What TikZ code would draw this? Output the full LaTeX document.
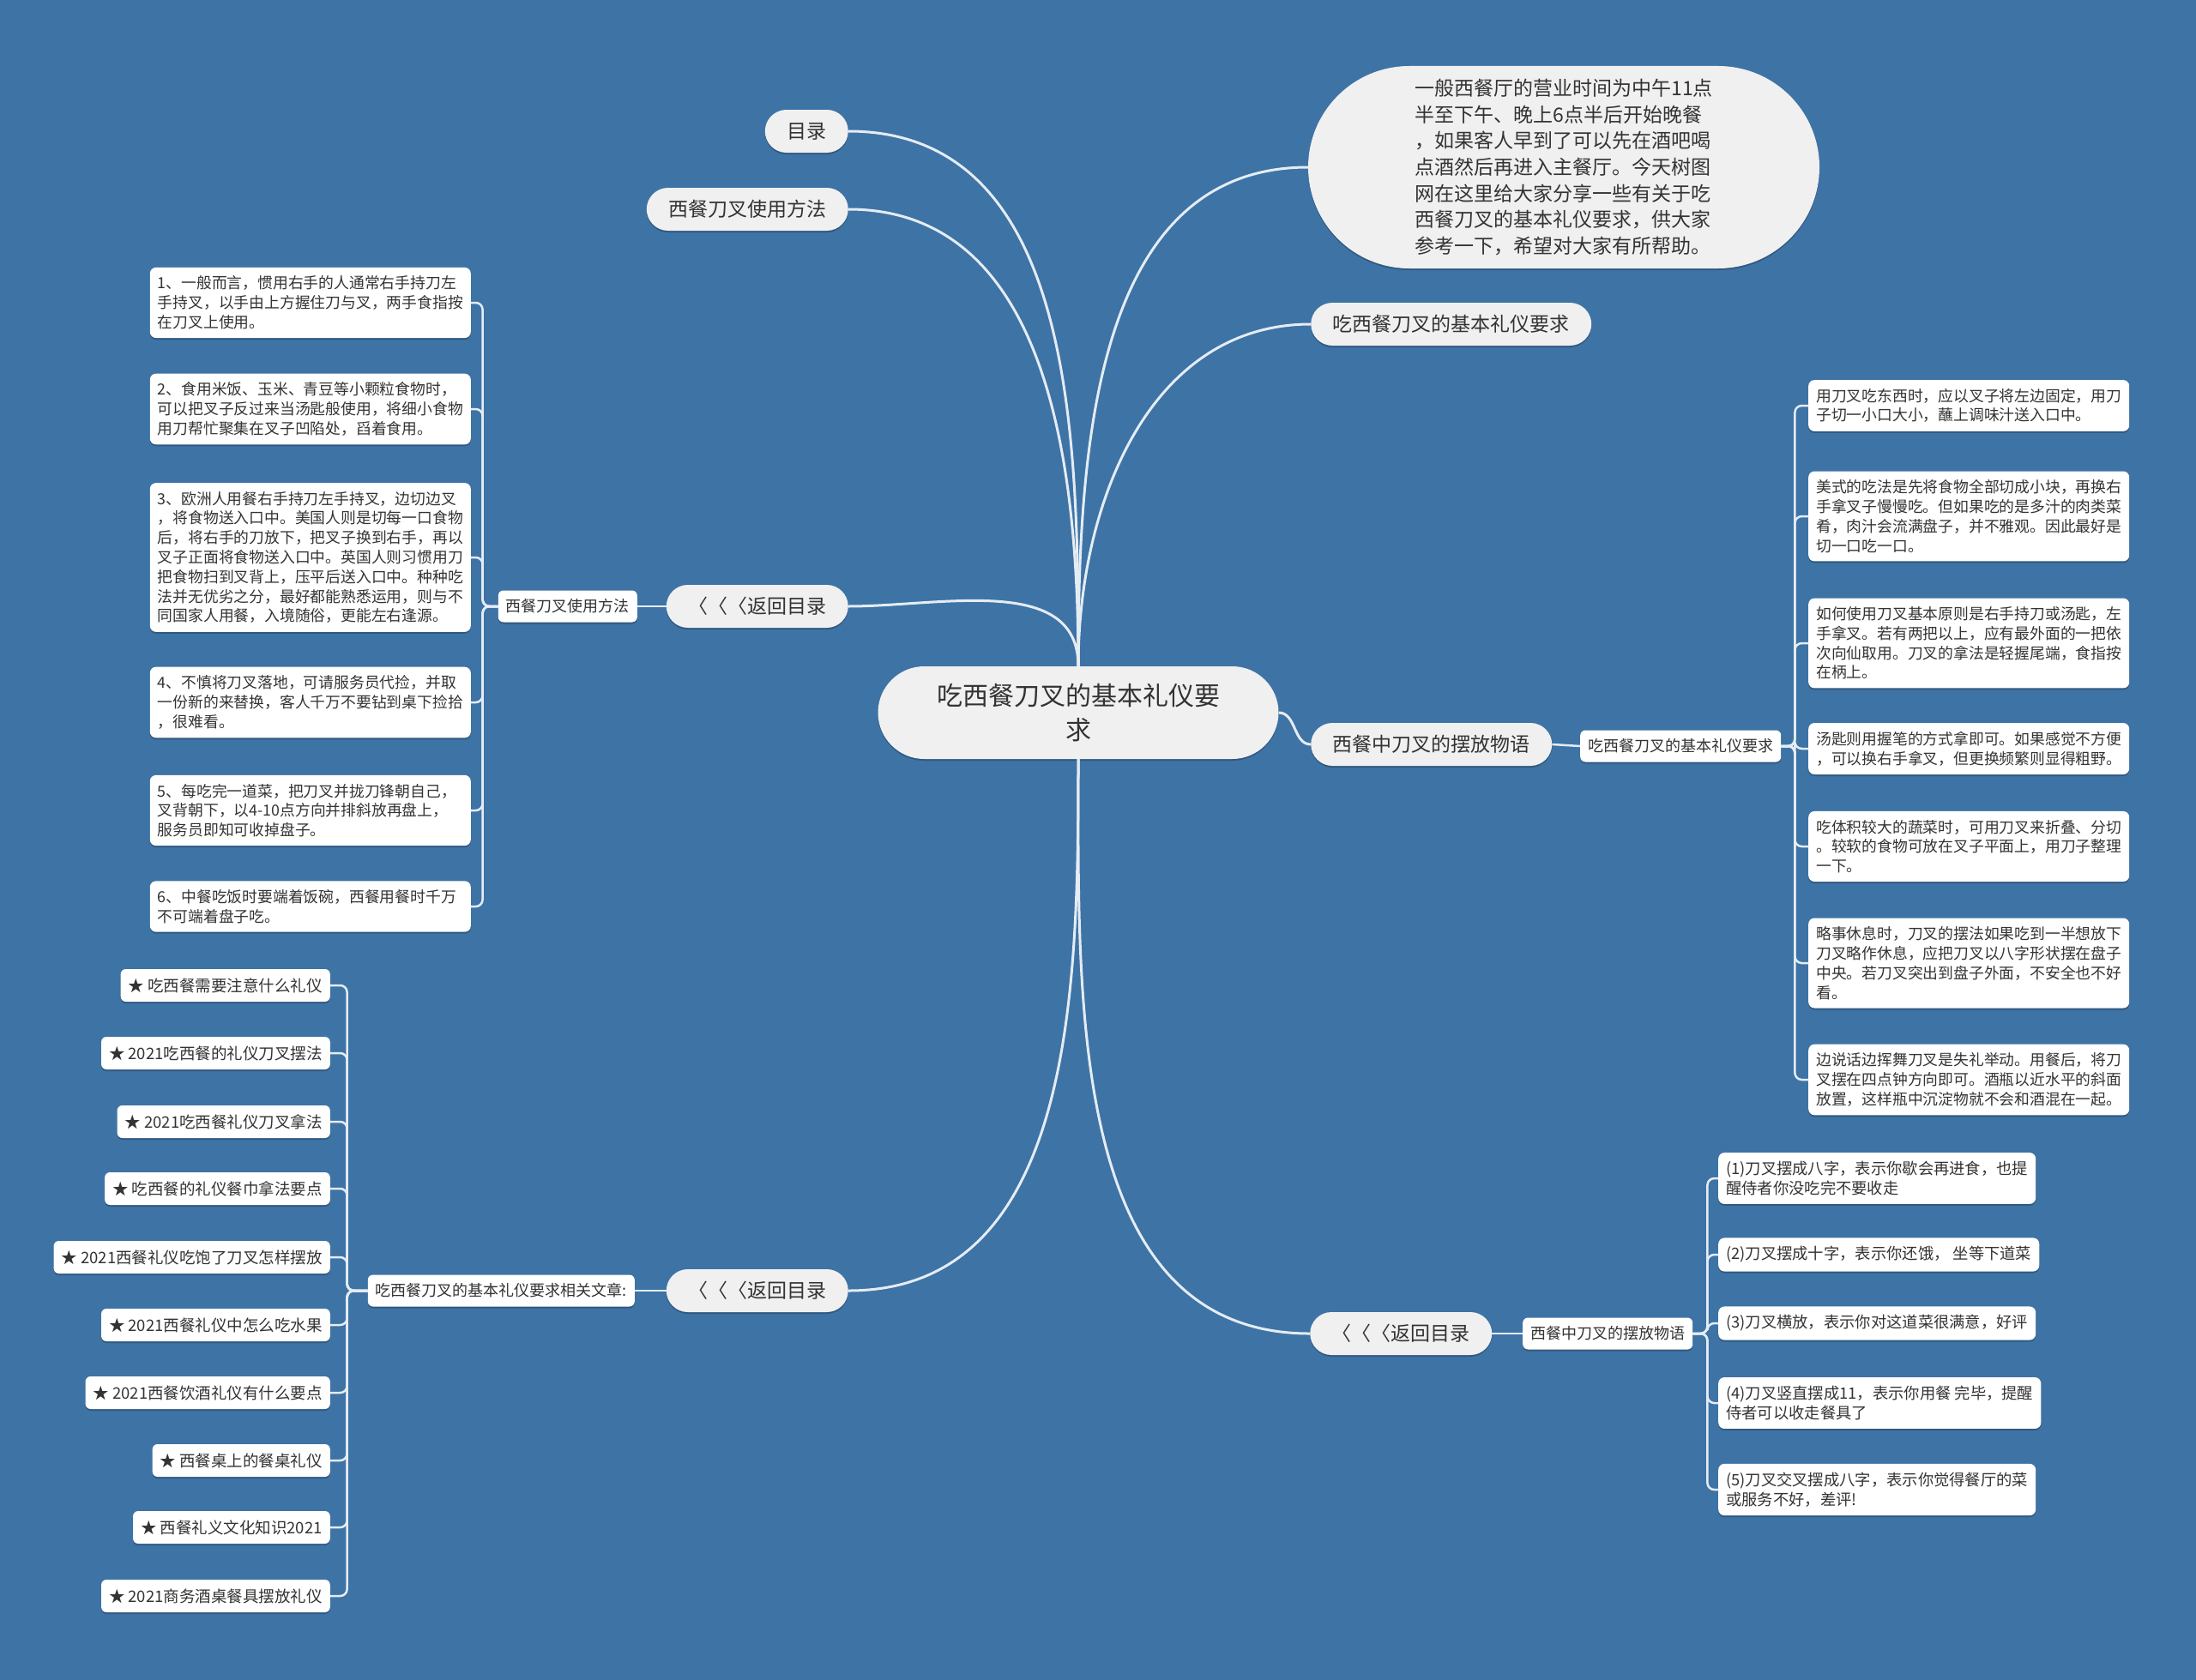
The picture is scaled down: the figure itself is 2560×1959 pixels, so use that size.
\documentclass[tikz,border=0pt]{standalone}
\usepackage{fontspec}
\newfontfamily\cjk{Noto Sans CJK SC}
\usetikzlibrary{shadows}

\definecolor{bgblue}{HTML}{3E73A5}
\definecolor{linecol}{HTML}{E4ECF4}
\definecolor{pillgray}{HTML}{F0F0F0}
\definecolor{txtgray}{HTML}{333333}

\begin{document}
\begin{tikzpicture}[x=1pt, y=-1pt,
    shady/.style={drop shadow={shadow xshift=0pt, shadow yshift=-2pt, fill=black, opacity=.22}},
    hub/.style={shady, fill=pillgray, text=txtgray, font=\cjk\fontsize{30}{40}\selectfont,
      rounded corners=54pt, minimum width=467pt, minimum height=108pt, align=center},
    intro/.style={shady, fill=pillgray, text=txtgray, font=\cjk\fontsize{23}{30.7}\selectfont,
      rounded corners=118pt, minimum width=596pt, minimum height=236pt, align=left},
    pill/.style={shady, fill=pillgray, text=txtgray, font=\cjk\fontsize{23}{28}\selectfont,
      rounded corners=25pt, minimum height=50pt, inner xsep=25.5pt},
    tag/.style={shady, fill=white, text=txtgray, font=\cjk\fontsize{18}{22}\selectfont,
      rounded corners=6pt, minimum height=37pt, inner xsep=9pt},
    leaf/.style={shady, fill=white, text=txtgray, font=\cjk\fontsize{17.8}{22.8}\selectfont,
      rounded corners=7pt, align=left, inner xsep=9pt, inner ysep=10pt},
    wide/.style={leaf, text width=356pt},
    pose/.style={leaf, font=\cjk\fontsize{18.3}{22.8}\selectfont},
    rel/.style={shady, fill=white, text=txtgray, font=\cjk\fontsize{18.5}{22}\selectfont,
      rounded corners=6pt, minimum height=38pt, inner xsep=9pt, anchor=east},
    link/.style={draw=linecol, line width=3pt},
    twig/.style={draw=linecol, line width=2.5pt, rounded corners=8pt}]

  % background
  \useasboundingbox (0,0) rectangle (2560,1959);
  \fill[bgblue] (0,0) rectangle (2560,1959);

  % center
  \node[hub] (ctr) at (1257,831) {吃西餐刀叉的基本礼仪要\\求};

  % left branches
  \node[pill, anchor=east] (mulu) at (989,153) {目录};
  \node[pill, anchor=east] (fangfa) at (989,244) {西餐刀叉使用方法};
  \node[pill, anchor=east] (back1) at (989,707) {〈〈〈返回目录};
  \node[pill, anchor=east] (back2) at (989,1505) {〈〈〈返回目录};

  % right branches
  \node[intro] (intro) at (1823,195) {一般西餐厅的营业时间为中午11点\\半至下午、晚上6点半后开始晚餐\\，如果客人早到了可以先在酒吧喝\\点酒然后再进入主餐厅。今天树图\\网在这里给大家分享一些有关于吃\\西餐刀叉的基本礼仪要求，供大家\\参考一下，希望对大家有所帮助。};
  \node[pill, anchor=west] (yaoqiu) at (1528,378) {吃西餐刀叉的基本礼仪要求};
  \node[pill, anchor=west] (baifang) at (1528,868) {西餐中刀叉的摆放物语};
  \node[pill, anchor=west] (back3) at (1527,1555) {〈〈〈返回目录};

  % tags
  \node[tag, anchor=east] (tag1) at (743,707) {西餐刀叉使用方法};
  \node[tag, anchor=east] (tag2) at (740,1505) {吃西餐刀叉的基本礼仪要求相关文章:};
  \node[tag, anchor=west] (tag3) at (1842,870) {吃西餐刀叉的基本礼仪要求};
  \node[tag, anchor=west] (tag4) at (1775,1555) {西餐中刀叉的摆放物语};

  % usage leaves
  \node[wide, anchor=east] (use1) at (549,353) {1、一般而言，惯用右手的人通常右手持刀左\\手持叉，以手由上方握住刀与叉，两手食指按\\在刀叉上使用。};
  \node[wide, anchor=east] (use2) at (549,477) {2、食用米饭、玉米、青豆等小颗粒食物时，\\可以把叉子反过来当汤匙般使用，将细小食物\\用刀帮忙聚集在叉子凹陷处，舀着食用。};
  \node[wide, anchor=east] (use3) at (549,650) {3、欧洲人用餐右手持刀左手持叉，边切边叉\\，将食物送入口中。美国人则是切每一口食物\\后，将右手的刀放下，把叉子换到右手，再以\\叉子正面将食物送入口中。英国人则习惯用刀\\把食物扫到叉背上，压平后送入口中。种种吃\\法并无优劣之分，最好都能熟悉运用，则与不\\同国家人用餐，入境随俗，更能左右逢源。};
  \node[wide, anchor=east] (use4) at (549,819) {4、不慎将刀叉落地，可请服务员代捡，并取\\一份新的来替换，客人千万不要钻到桌下捡拾\\，很难看。};
  \node[wide, anchor=east] (use5) at (549,945) {5、每吃完一道菜，把刀叉并拢刀锋朝自己，\\叉背朝下，以4-10点方向并排斜放再盘上，\\服务员即知可收掉盘子。};
  \node[wide, anchor=east] (use6) at (549,1057) {6、中餐吃饭时要端着饭碗，西餐用餐时千万\\不可端着盘子吃。};

  % rule leaves
  \node[wide, anchor=west] (rule1) at (2108,473) {用刀叉吃东西时，应以叉子将左边固定，用刀\\子切一小口大小，蘸上调味汁送入口中。};
  \node[wide, anchor=west] (rule2) at (2108,602) {美式的吃法是先将食物全部切成小块，再换右\\手拿叉子慢慢吃。但如果吃的是多汁的肉类菜\\肴，肉汁会流满盘子，并不雅观。因此最好是\\切一口吃一口。};
  \node[wide, anchor=west] (rule3) at (2108,750) {如何使用刀叉基本原则是右手持刀或汤匙，左\\手拿叉。若有两把以上，应有最外面的一把依\\次向仙取用。刀叉的拿法是轻握尾端，食指按\\在柄上。};
  \node[wide, anchor=west] (rule4) at (2108,873) {汤匙则用握笔的方式拿即可。如果感觉不方便\\，可以换右手拿叉，但更换频繁则显得粗野。};
  \node[wide, anchor=west] (rule5) at (2108,987) {吃体积较大的蔬菜时，可用刀叉来折叠、分切\\。较软的食物可放在叉子平面上，用刀子整理\\一下。};
  \node[wide, anchor=west] (rule6) at (2108,1123) {略事休息时，刀叉的摆法如果吃到一半想放下\\刀叉略作休息，应把刀叉以八字形状摆在盘子\\中央。若刀叉突出到盘子外面，不安全也不好\\看。};
  \node[wide, anchor=west] (rule7) at (2108,1259) {边说话边挥舞刀叉是失礼举动。用餐后，将刀\\叉摆在四点钟方向即可。酒瓶以近水平的斜面\\放置，这样瓶中沉淀物就不会和酒混在一起。};

  % placement leaves
  \node[pose, anchor=west] (pos1) at (2003,1374) {(1)刀叉摆成八字，表示你歇会再进食，也提\\醒侍者你没吃完不要收走};
  \node[pose, anchor=west] (pos2) at (2003,1463) {(2)刀叉摆成十字，表示你还饿， 坐等下道菜};
  \node[pose, anchor=west] (pos3) at (2003,1543) {(3)刀叉横放，表示你对这道菜很满意，好评};
  \node[pose, anchor=west] (pos4) at (2003,1636) {(4)刀叉竖直摆成11，表示你用餐 完毕，提醒\\侍者可以收走餐具了};
  \node[pose, anchor=west] (pos5) at (2003,1737) {(5)刀叉交叉摆成八字，表示你觉得餐厅的菜\\或服务不好，差评!};

  % related articles
  \node[rel] (art1) at (385,1149) {★ 吃西餐需要注意什么礼仪};
  \node[rel] (art2) at (385,1228) {★ 2021吃西餐的礼仪刀叉摆法};
  \node[rel] (art3) at (385,1308) {★ 2021吃西餐礼仪刀叉拿法};
  \node[rel] (art4) at (385,1386) {★ 吃西餐的礼仪餐巾拿法要点};
  \node[rel] (art5) at (385,1466) {★ 2021西餐礼仪吃饱了刀叉怎样摆放};
  \node[rel] (art6) at (385,1545) {★ 2021西餐礼仪中怎么吃水果};
  \node[rel] (art7) at (385,1624) {★ 2021西餐饮酒礼仪有什么要点};
  \node[rel] (art8) at (385,1703) {★ 西餐桌上的餐桌礼仪};
  \node[rel] (art9) at (385,1781) {★ 西餐礼义文化知识2021};
  \node[rel] (art10) at (385,1861) {★ 2021商务酒桌餐具摆放礼仪};

  % main curves
  \draw[link] (ctr.north) to[out=90, in=0] (mulu.east);
  \draw[link] (ctr.north) to[out=90, in=0] (fangfa.east);
  \draw[link] (ctr.north) to[out=90, in=0] (back1.east);
  \draw[link] (ctr.north) to[out=90, in=180] (intro.west);
  \draw[link] (ctr.north) to[out=90, in=180] (yaoqiu.west);
  \draw[link] (ctr.east) to[out=0, in=180] (baifang.west);
  \draw[link] (ctr.south) to[out=-90, in=0] (back2.east);
  \draw[link] (ctr.south) to[out=-90, in=180] (back3.west);

  % pill to tag
  \draw[twig] (back1.west) -- (tag1.east);
  \draw[twig] (back2.west) -- (tag2.east);
  \draw[twig] (baifang.east) -- (tag3.west);
  \draw[twig] (back3.east) -- (tag4.west);

  % brackets
  \foreach \n in {use1,use2,use3,use4,use5,use6}
    \draw[twig] (tag1.west) -- ++(-18,0) |- (\n.east);
  \foreach \n in {art1,art2,art3,art4,art5,art6,art7,art8,art9,art10}
    \draw[twig] (tag2.west) -- ++(-24,0) |- (\n.east);
  \foreach \n in {rule1,rule2,rule3,rule4,rule5,rule6,rule7}
    \draw[twig] (tag3.east) -- ++(16,0) |- (\n.west);
  \foreach \n in {pos1,pos2,pos3,pos4,pos5}
    \draw[twig] (tag4.east) -- ++(17,0) |- (\n.west);

\end{tikzpicture}
\end{document}
